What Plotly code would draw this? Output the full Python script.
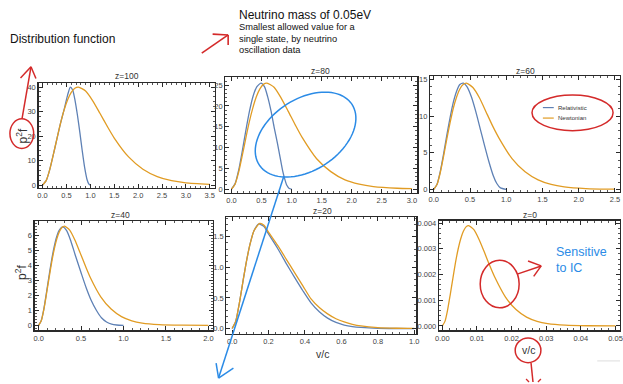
import numpy as np
import plotly.graph_objects as go

W, H = 623, 384
BLUE = "#5E81B5"
ORANGE = "#E19C24"
RED = "#D42A2A"
SKY = "#2B8BE6"

# ---------------- data ----------------
titles = ["z=100", "z=80", "z=60", "z=40", "z=20", "z=0"]

# z=100
x100_new = [0, .075, .15, .225, .3, .375, .45, .525, .6, .675, .75, .9, 1.05, 1.2, 1.35, 1.5, 1.8, 2.1, 2.4, 2.7, 3.0, 3.5]
y100_new = [0, 1.8, 6.3, 12.4, 18.9, 25.2, 30.6, 34.8, 37.8, 39.5, 40, 38.4, 34.4, 29.3, 24.1, 19.2, 11.5, 6.5, 3.5, 1.8, 0.94, 0.3]
x100_rel = [0, .075, .15, .225, .3, .375, .45, .525, .58, .63, .68, .73, .78, .83, .88, .93, .97, 1.0]
y100_rel = [0, 1.8, 6.3, 12.4, 18.9, 25.2, 30.8, 36.8, 40, 38.8, 34.5, 28.5, 21.5, 14, 7.2, 2.3, 0.4, 0]

# z=80
x80_new = [0, .059, .118, .177, .236, .295, .354, .413, .472, .531, .59, .708, .826, .944, 1.062, 1.18, 1.416, 1.652, 1.888, 2.124, 2.36, 2.755, 3.0]
y80_new = [0, 1.15, 4.0, 7.9, 12.1, 16.1, 19.5, 22.2, 24.1, 25.2, 25.5, 24.5, 21.9, 18.7, 15.4, 12.3, 7.3, 4.2, 2.2, 1.17, 0.6, 0.19, 0.09]
x80_rel = [0, .06, .12, .18, .24, .3, .36, .42, .49, .55, .6, .657, .71, .766, .81, .849, .88, .92, .96, 1.0]
y80_rel = [0, 1.3, 4.6, 9.2, 14.2, 18.8, 22.4, 24.6, 25.5, 24.6, 22.3, 18.8, 14.8, 10.9, 7.5, 4.5, 2.7, 0.9, 0.15, 0]

# z=60
x60_new = [0, .045, .09, .135, .18, .225, .27, .315, .36, .405, .45, .54, .63, .72, .81, .9, 1.08, 1.26, 1.44, 1.62, 1.8, 2.1, 2.5]
y60_new = [0, .65, 2.3, 4.5, 6.9, 9.1, 11.1, 12.6, 13.7, 14.3, 14.5, 13.9, 12.5, 10.6, 8.7, 7.0, 4.2, 2.4, 1.3, 0.67, 0.34, 0.11, 0.02]
x60_rel = [0, .045, .09, .135, .18, .225, .27, .315, .36, .41, .46, .52, .58, .64, .7, .76, .82, .87, .92, 1.0]
y60_rel = [0, .7, 2.45, 4.8, 7.4, 9.8, 11.9, 13.4, 14.3, 14.5, 14.0, 12.6, 10.6, 8.3, 6.0, 3.8, 1.9, 0.8, 0.2, 0]

# z=40
x40_new = [0, .0305, .061, .0915, .122, .1525, .183, .2135, .244, .2745, .305, .366, .427, .488, .549, .61, .732, .854, .976, 1.098, 1.22, 1.42, 1.7, 2.0]
y40_new = [0, .3, 1.04, 2.05, 3.12, 4.16, 5.04, 5.74, 6.23, 6.51, 6.6, 6.34, 5.68, 4.84, 3.98, 3.17, 1.9, 1.08, .58, .30, .15, .05, .01, 0.0]
x40_rel = [0, .03, .06, .09, .12, .15, .18, .21, .24, .283, .33, .38, .43, .5, .56, .62, .68, .74, .8, .86, .92, 1.0]
y40_rel = [0, .3, 1.05, 2.1, 3.2, 4.25, 5.15, 5.85, 6.3, 6.55, 6.3, 5.6, 4.7, 3.5, 2.5, 1.65, 1.0, 0.5, 0.22, 0.07, 0.02, 0]

# z=20
x20_new = [0, .02, .04, .06, .08, .1, .12, .151, .175, .197, .25, .3, .342, .39, .433, .48, .524, .57, .615, .66, .707, .8, .9, 1.0]
y20_new = [0, .12, .42, .78, 1.12, 1.4, 1.6, 1.72, 1.69, 1.59, 1.36, 1.12, .92, .69, .485, .34, .24, .16, .108, .07, .043, .015, .005, .002]
x20_rel = [0, .02, .04, .06, .08, .1, .12, .145, .175, .197, .25, .3, .342, .39, .433, .48, .524, .57, .615, .66, .707, .8, .9, 1.0]
y20_rel = [0, .12, .42, .78, 1.12, 1.4, 1.6, 1.71, 1.67, 1.56, 1.31, 1.05, .84, .61, .42, .27, .17, .10, .058, .033, .018, .004, .001, 0]

# z=0
x0_new = [0, .00076, .00152, .00228, .00304, .0038, .00456, .00532, .00608, .00684, .0076, .00912, .01064, .01216, .01368, .0152, .01824, .02128, .02432, .02736, .0304, .0355, .042, .05]
y0_new = [0, .000176, .000616, .00121, .00184, .00246, .00298, .00339, .00368, .00385, .0039, .00374, .00335, .00286, .00235, .00188, .00112, .000636, .000343, .000179, .0000913, .0000289, .0000059, .0000008]

panels = [
    (x100_rel, y100_rel, x100_new, y100_new),
    (x80_rel, y80_rel, x80_new, y80_new),
    (x60_rel, y60_rel, x60_new, y60_new),
    (x40_rel, y40_rel, x40_new, y40_new),
    (x20_rel, y20_rel, x20_new, y20_new),
    (None, None, x0_new, y0_new),
]

# ---------------- layout geometry (pixels) ----------------
def px(x):
    return x / W

def py(y):
    return 1 - y / H

boxes = [  # left, right, top, bottom in pixels
    (35, 213, 82, 188),
    (224, 418, 75.7, 193),
    (431, 623, 75, 191.7),
    (31, 211, 221.7, 331.7),
    (225, 417, 217.3, 335),
    (440, 623, 221, 331.7),
]
xranges = [[-0.083, 3.60], [-0.1, 3.09], [-0.05, 2.57], [-0.047, 2.05], [-0.031, 1.011], [-0.00094, 0.0513]]
yranges = [[-1.2, 41.6], [-0.95, 27.0], [-0.32, 15.44], [-0.33, 6.92], [-0.081, 1.824], [-0.000169, 0.00409]]
xdticks = [0.5, 0.5, 0.5, 0.5, 0.2, 0.01]
ydticks = [10, 5, 5, 1, 0.5, 0.001]
xfmts = [".1f", ".1f", ".1f", ".1f", ".1f", ".2f"]
yfmts = ["d", "d", "d", "d", ".1f", ".3f"]
title_pos = [(124, 75), (320, 70), (527, 69.3), (118, 215), (322, 211.7), (532, 215)]

fig = go.Figure()
layout = dict(
    width=W, height=H, autosize=False,
    margin=dict(l=0, r=0, t=0, b=0),
    paper_bgcolor="white", plot_bgcolor="white",
    showlegend=False,
    font=dict(family="Liberation Sans, Arial, sans-serif", color="#333"),
)

def axis(domain, rng, dtick, fmt, anchor):
    return dict(
        domain=domain, range=rng, anchor=anchor,
        showline=True, linecolor="#2a2a2a", linewidth=1.3, mirror="allticks",
        ticks="inside", ticklen=4, tickwidth=1, tickcolor="#2a2a2a",
        tick0=0, dtick=dtick, tickformat=fmt,
        minor=dict(ticks="inside", ticklen=2, dtick=dtick / 5, tickcolor="#2a2a2a", tickwidth=0.8),
        showgrid=False, zeroline=False,
        tickfont=dict(size=7.5, color="#444"),
    )

for i, (xr, yr, xn, yn) in enumerate(panels):
    k = "" if i == 0 else str(i + 1)
    xa, ya = "x" + k, "y" + k
    l, r, t, b = boxes[i]
    layout["xaxis" + k] = axis([px(l), px(r)], xranges[i], xdticks[i], xfmts[i], ya)
    layout["yaxis" + k] = axis([py(b), py(t)], yranges[i], ydticks[i], yfmts[i], xa)
    if xr is not None:
        fig.add_trace(go.Scatter(x=xr, y=yr, mode="lines", xaxis=xa, yaxis=ya,
                                 line=dict(color=BLUE, width=1.3, shape="spline", smoothing=0.6),
                                 hoverinfo="skip"))
    fig.add_trace(go.Scatter(x=xn, y=yn, mode="lines", xaxis=xa, yaxis=ya,
                             line=dict(color=ORANGE, width=1.3, shape="spline", smoothing=0.6),
                             hoverinfo="skip"))

annotations = []

def text(x, y, s, size, color="#222", anchor="center", angle=0):
    annotations.append(dict(x=px(x), y=py(y), xref="paper", yref="paper", text=s,
                            showarrow=False, xanchor=anchor, yanchor="middle", align=anchor,
                            borderpad=0, textangle=angle, font=dict(size=size, color=color)))

for (tx, ty), tt in zip(title_pos, titles):
    text(tx, ty, tt, 8.5, "#333")

text(5, 37, "Distribution function", 12, "#111", "left")
text(237, 12.7, "Neutrino mass of 0.05eV", 12, "#111", "left")
text(237, 25, "Smallest allowed value for a", 9.3, "#111", "left")
text(237, 37, "single state, by neutrino", 9.3, "#111", "left")
text(237, 49, "oscillation data", 9.3, "#111", "left")
text(18, 135, "p<sup>2</sup>f", 12, "#333", angle=-90)
text(17, 273, "p<sup>2</sup>f", 12, "#333", angle=-90)
text(322, 356, "v/c", 10.5, "#333")
text(530, 352, "v/c", 10.5, "#333")
text(559, 106.7, "Relativistic", 6, "#333", "left")
text(559, 117.3, "Newtonian", 6, "#333", "left")
text(557, 253, "Sensitive", 12.5, SKY, "left")
text(557, 269, "to IC", 12.5, SKY, "left")

shapes = []

def seg(x0, y0, x1, y1, color, width=1.5):
    shapes.append(dict(type="line", xref="paper", yref="paper",
                       x0=px(x0), y0=py(y0), x1=px(x1), y1=py(y1),
                       line=dict(color=color, width=width)))

def ell(cx, cy, rx, ry, color, width=1.5):
    shapes.append(dict(type="circle", xref="paper", yref="paper",
                       x0=px(cx - rx), x1=px(cx + rx), y0=py(cy + ry), y1=py(cy - ry),
                       line=dict(color=color, width=width)))

def rot_ell(cx, cy, a, b, deg, color, width=1.5):
    th = np.linspace(0, 2 * np.pi, 90)
    ph = np.deg2rad(deg)
    xs = cx + a * np.cos(th) * np.cos(ph) - b * np.sin(th) * np.sin(ph)
    ys = cy + a * np.cos(th) * np.sin(ph) + b * np.sin(th) * np.cos(ph)
    path = "M " + " L ".join(f"{px(X):.5f},{py(Y):.5f}" for X, Y in zip(xs, ys)) + " Z"
    shapes.append(dict(type="path", xref="paper", yref="paper", path=path,
                       line=dict(color=color, width=width)))

# legend samples
seg(545, 106.7, 556, 106.7, BLUE, 1.2)
seg(545, 117.3, 556, 117.3, ORANGE, 1.2)
ell(575, 112, 41, 18, RED, 1.5)

# red arrow at the header
seg(200, 51.7, 226.7, 33.3, RED, 1.6)
seg(226.7, 33.3, 211, 32.5, RED, 1.6)
seg(226.7, 33.3, 226.7, 43.5, RED, 1.6)

# red circle on p^2 f and arrow up
ell(18, 133, 12, 15, RED, 1.5)
seg(18.3, 117.5, 27.3, 65.5, RED, 1.5)
seg(27.3, 65.5, 16.7, 76.7, RED, 1.5)
seg(27.3, 65.5, 32.3, 77.3, RED, 1.5)

# blue ellipse and arrow
rot_ell(305, 134, 56, 36, -33, SKY, 1.5)
seg(283, 176, 217, 380, SKY, 1.5)
seg(217, 380, 214.5, 365, SKY, 1.5)
seg(217, 380, 232, 370, SKY, 1.5)

# sensitive to IC
ell(501.3, 285, 19.7, 24, RED, 1.5)
seg(519, 275, 543.3, 266.7, RED, 1.5)
seg(543.3, 266.7, 530, 261.7, RED, 1.5)
seg(543.3, 266.7, 535.7, 277.3, RED, 1.5)

# v/c circle and line down
ell(530, 352, 13, 12.5, RED, 1.5)
seg(533, 364.5, 535, 384, RED, 1.5)
seg(528, 381, 531, 384, RED, 1.3)
seg(543, 381, 540, 384, RED, 1.3)
seg(600, 362.7, 623, 362.7, "#dddddd", 1)

layout["annotations"] = annotations
layout["shapes"] = shapes
fig.update_layout(**layout)
fig.write_html("out.html", config={"displayModeBar": False, "staticPlot": True},
               post_script="document.body.style.margin='0';document.body.style.overflow='hidden';")
